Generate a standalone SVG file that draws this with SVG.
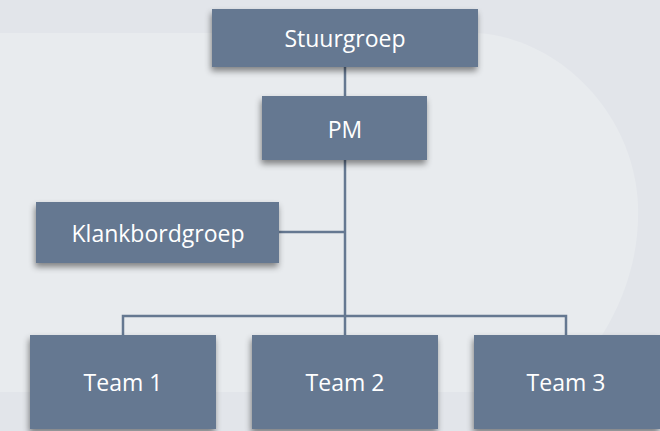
<svg xmlns="http://www.w3.org/2000/svg" width="660" height="431" viewBox="0 0 660 431">
<defs>
<filter id="sh" x="-10%" y="-10%" width="125%" height="140%">
<feDropShadow dx="-1" dy="4" stdDeviation="3" flood-color="#000" flood-opacity="0.45"/>
</filter>
<style>
.node rect{fill:#657891;filter:url(#sh)}
.node text{fill:#fff;font-family:"Open Sans",sans-serif;font-size:23px;text-anchor:middle}
.conn{stroke:#657891;stroke-width:2.5;fill:none}
</style>
</defs>
<rect x="0" y="0" width="660" height="431" fill="#e2e5ea"/>
<path d="M0,33 H475 C555,36 634,110 638,205 C641,285 600,350 555,392 H0 Z" fill="#e8ebee"/>
<g id="connectors" class="conn">
<line x1="345" y1="67" x2="345" y2="96"/>
<line x1="345" y1="160" x2="345" y2="335"/>
<line x1="279" y1="232" x2="345" y2="232"/>
<polyline points="123,335 123,316 566,316 566,335"/>
</g>
<g id="stuurgroep" class="node"><rect x="212" y="9" width="266" height="58"/><text x="345" y="47">Stuurgroep</text></g>
<g id="pm" class="node"><rect x="262" y="96" width="165" height="64"/><text x="345" y="138">PM</text></g>
<g id="klankbordgroep" class="node"><rect x="36" y="202" width="243" height="61"/><text x="158" y="242">Klankbordgroep</text></g>
<g id="team1" class="node"><rect x="30" y="335" width="186" height="94"/><text x="123" y="391">Team 1</text></g>
<g id="team2" class="node"><rect x="252" y="335" width="186" height="94"/><text x="345" y="391">Team 2</text></g>
<g id="team3" class="node"><rect x="474" y="335" width="186" height="94"/><text x="566" y="391">Team 3</text></g>
</svg>
